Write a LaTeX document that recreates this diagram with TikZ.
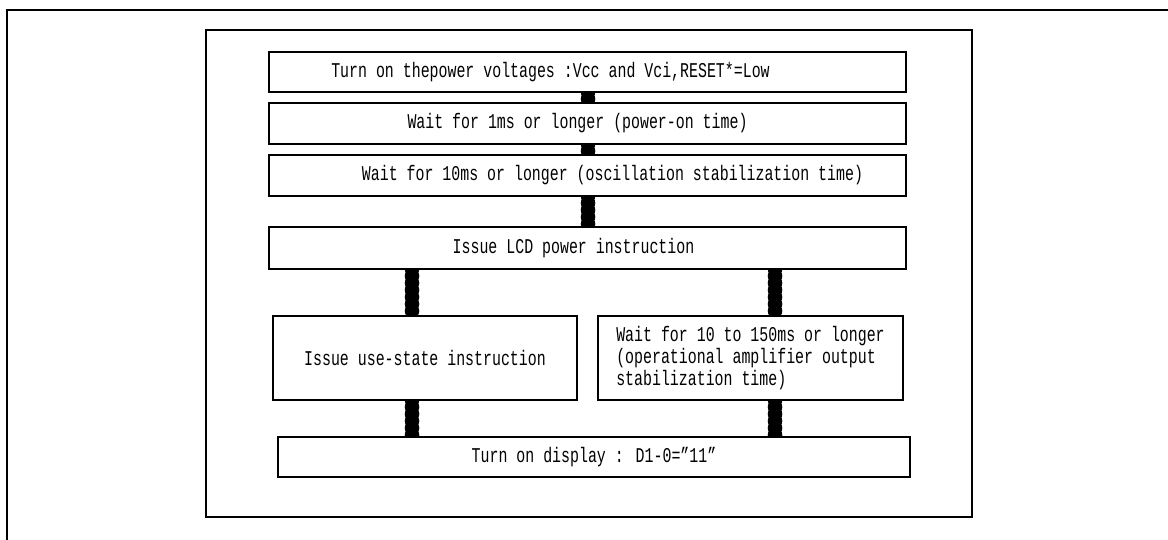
\documentclass[tikz,border=0pt]{standalone}
\usepackage{fontspec}
\setmainfont{Liberation Mono}[FakeStretch=0.71]
\usetikzlibrary{decorations.markings,backgrounds}
\begin{document}
\begin{tikzpicture}[x=1pt,y=-1pt,
  box/.style={draw=black, line width=2.8pt, fill=white, inner sep=0pt, outer sep=0pt,
    anchor=north west, font=\fontsize{21}{22}\selectfont},
  link/.style={line width=10pt, draw=black, postaction={decorate},
    decoration={markings, mark=between positions 0 and 1 step 7pt with {\fill[black] (0,0) circle (7.3pt);}}},
  frame/.style={draw=black, line width=2.8pt}]
\useasboundingbox (0,0) rectangle (1168,540);
% outer and inner frames
\draw[frame] (7,545) -- (7,10) -- (1175,10);
\draw[frame] (206,30) rectangle (972,517);
% boxes
\node[box, minimum width=637pt, minimum height=40pt] (b1) at (269,52)
  {\hspace*{-74pt}Turn on thepower voltages :Vcc and Vci,RESET*=Low};
\node[box, minimum width=637pt, minimum height=41pt] (b2) at (269,103)
  {\hspace*{-20pt}Wait for 1ms or longer (power-on time)};
\node[box, minimum width=637pt, minimum height=41pt] (b3) at (269,155)
  {\hspace*{50pt}Wait for 10ms or longer (oscillation stabilization time)};
\node[box, minimum width=637pt, minimum height=42pt] (b4) at (269,227)
  {\hspace*{-28pt}Issue LCD power instruction};
\node[box, minimum width=304pt, minimum height=84pt] (b5) at (273,316)
  {Issue use-state instruction};
\node[box, minimum width=305pt, minimum height=84pt, align=left] (b6) at (598,316)
  {Wait for 10 to 150ms or longer\\(operational amplifier output\\stabilization time)};
\node[box, minimum width=632pt, minimum height=40pt] (b7) at (278,437)
  {Turn on display : D1-0=\symbol{34}11\symbol{34}};
\coordinate (cx) at (588,0);
\coordinate (lx) at (412,0);
\coordinate (rx) at (775,0);
% connectors
\begin{scope}[on background layer]
\draw[link] (b1.south -| cx) -- (b2.north -| cx);
\draw[link] (b2.south -| cx) -- (b3.north -| cx);
\draw[link] (b3.south -| cx) -- (b4.north -| cx);
\draw[link] (b4.south -| lx) -- (b5.north -| lx);
\draw[link] (b4.south -| rx) -- (b6.north -| rx);
\draw[link] (b5.south -| lx) -- (b7.north -| lx);
\draw[link] (b6.south -| rx) -- (b7.north -| rx);
\end{scope}
\end{tikzpicture}
\end{document}
